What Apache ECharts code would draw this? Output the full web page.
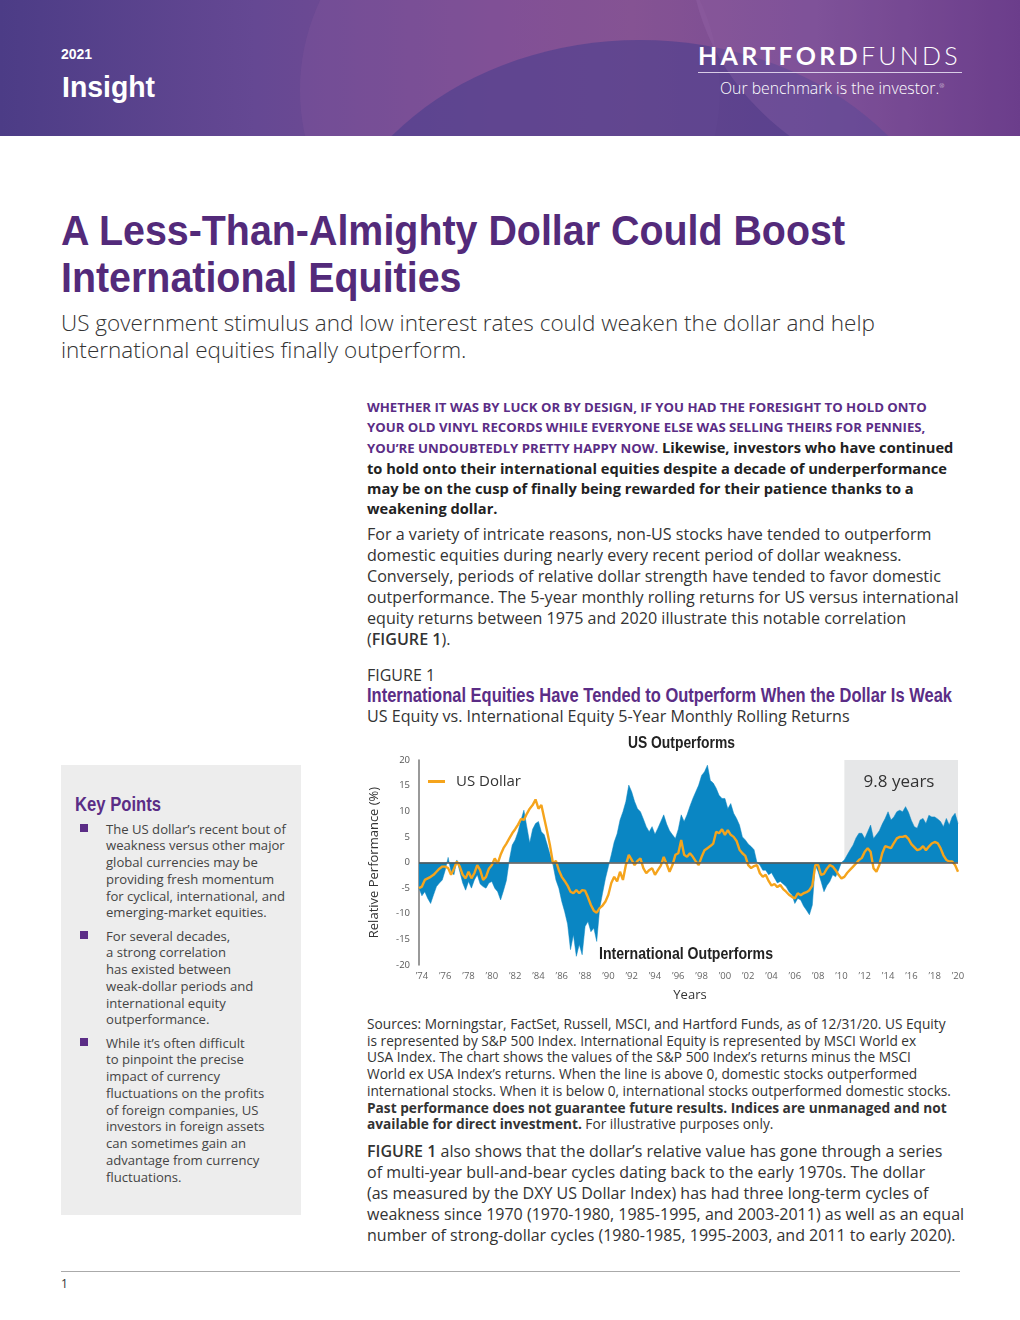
<!DOCTYPE html>
<html><head><meta charset="utf-8">
<script src="https://cdn.jsdelivr.net/npm/echarts@6/dist/echarts.min.js"></script>
<style>
html,body{margin:0;padding:0;background:#fff;}
body{width:1020px;height:1320px;position:relative;overflow:hidden;font-family:"Open Sans",sans-serif;color:#333;}
.abs{position:absolute;white-space:nowrap;}
.cond{font-family:"Liberation Sans",Arial,sans-serif;font-weight:bold;transform-origin:0 0;display:inline-block;}
#hdr{position:absolute;left:0;top:0;width:1020px;height:136px;overflow:hidden;
 background:linear-gradient(90deg,#4c3c86 0%,#654893 25%,#7e4d93 50%,#83508f 62%,#744890 80%,#5a2d7e 100%);}
.ln{display:block;}
</style></head><body>
<div id="hdr">
 <div style="position:absolute;left:300px;top:-120px;width:420px;height:420px;border-radius:50%;background:rgba(140,90,160,0.25);"></div>
 <div style="position:absolute;left:320px;top:40px;width:640px;height:520px;border-radius:50%;background:rgba(70,60,140,0.55);"></div>
 <div style="position:absolute;left:690px;top:-300px;width:600px;height:500px;border-radius:50%;background:rgba(160,110,180,0.25);"></div>
 <div class="abs" style="left:61px;top:46px;font-size:14px;font-weight:bold;color:#fff;font-family:'Liberation Sans',sans-serif;">2021</div>
 <div class="abs cond fit" data-w="93" style="left:62px;top:70px;font-size:30px;line-height:34px;color:#fff;">Insight</div>
 <div class="abs" style="left:698px;top:40px;font-size:25px;color:#fff;font-family:Lato,sans-serif;letter-spacing:3.3px;"><b>HARTFORD</b><span style="font-weight:300">FUNDS</span></div>
 <div style="position:absolute;left:698px;top:72px;width:264px;height:1px;background:#d8cce6;"></div>
 <div class="abs" style="left:720px;top:77px;font-size:15.8px;color:#fff;font-family:'Open Sans',sans-serif;font-weight:300;">Our benchmark is the investor.<sup style="font-size:6px">®</sup></div>
</div>

<div id="t1" class="abs cond fit" data-w="784" style="left:61px;top:207px;font-size:42px;line-height:47px;color:#532a7a;">A Less-Than-Almighty Dollar Could Boost</div>
<div id="t2" class="abs cond" style="left:61px;top:254px;font-size:42px;line-height:47px;color:#532a7a;">International Equities</div>
<div class="abs" style="left:61px;top:310px;font-size:22.5px;line-height:26px;color:#333;font-weight:300;">US government stimulus and low interest rates could weaken the dollar and help</div>
<div class="abs" style="left:61px;top:337px;font-size:22.5px;line-height:26px;color:#333;font-weight:300;">international equities finally outperform.</div>

<div class="abs" style="left:367px;top:397px;font-size:14.65px;line-height:20px;font-weight:700;color:#222;">
<span class="ln" style="color:#5b2d86;font-size:13.2px;">WHETHER IT WAS BY LUCK OR BY DESIGN, IF YOU HAD THE FORESIGHT TO HOLD ONTO</span>
<span class="ln" style="color:#5b2d86;font-size:13.2px;">YOUR OLD VINYL RECORDS WHILE EVERYONE ELSE WAS SELLING THEIRS FOR PENNIES,</span>
<span class="ln"><span style="color:#5b2d86;font-size:13.2px;">YOU’RE UNDOUBTEDLY PRETTY HAPPY NOW.</span> Likewise, investors who have continued</span>
<span class="ln">to hold onto their international equities despite a decade of underperformance</span>
<span class="ln">may be on the cusp of finally being rewarded for their patience thanks to a</span>
<span class="ln">weakening dollar.</span></div>

<div class="abs" style="left:367px;top:524px;font-size:16.1px;line-height:21px;color:#333;">
<span class="ln">For a variety of intricate reasons, non-US stocks have tended to outperform</span>
<span class="ln">domestic equities during nearly every recent period of dollar weakness.</span>
<span class="ln">Conversely, periods of relative dollar strength have tended to favor domestic</span>
<span class="ln">outperformance. The 5-year monthly rolling returns for US versus international</span>
<span class="ln">equity returns between 1975 and 2020 illustrate this notable correlation</span>
<span class="ln">(<span style="font-weight:600">FIGURE 1</span>).</span></div>

<div class="abs" style="left:367px;top:666px;font-size:16px;line-height:18px;color:#333;">FIGURE 1</div>
<div class="abs cond fit" data-w="585" style="left:367px;top:685px;font-size:19.5px;line-height:20px;color:#5b2d86;">International Equities Have Tended to Outperform When the Dollar Is Weak</div>
<div class="abs" style="left:367px;top:707px;font-size:16.1px;line-height:19px;color:#333;">US Equity vs. International Equity 5-Year Monthly Rolling Returns</div>

<div style="position:absolute;left:61px;top:765px;width:240px;height:450px;background:#ededed;"></div>
<div class="abs cond fit" data-w="86" style="left:75px;top:792px;font-size:21px;line-height:24px;color:#5b2d86;">Key Points</div>
<div id="kp"></div>

<div id="chart" style="position:absolute;left:360px;top:730px;width:610px;height:280px;"></div>

<div class="abs" style="left:367px;top:1016px;font-size:13.7px;line-height:16.7px;color:#333;">
<span class="ln">Sources: Morningstar, FactSet, Russell, MSCI, and Hartford Funds, as of 12/31/20. US Equity</span>
<span class="ln">is represented by S&amp;P 500 Index. International Equity is represented by MSCI World ex</span>
<span class="ln">USA Index. The chart shows the values of the S&amp;P 500 Index’s returns minus the MSCI</span>
<span class="ln">World ex USA Index’s returns. When the line is above 0, domestic stocks outperformed</span>
<span class="ln">international stocks. When it is below 0, international stocks outperformed domestic stocks.</span>
<span class="ln" style="font-weight:700">Past performance does not guarantee future results. Indices are unmanaged and not</span>
<span class="ln"><b>available for direct investment.</b> For illustrative purposes only.</span></div>

<div class="abs" style="left:367px;top:1141px;font-size:16.0px;line-height:21px;color:#333;">
<span class="ln"><span style="font-weight:600">FIGURE 1</span> also shows that the dollar’s relative value has gone through a series</span>
<span class="ln">of multi-year bull-and-bear cycles dating back to the early 1970s. The dollar</span>
<span class="ln">(as measured by the DXY US Dollar Index) has had three long-term cycles of</span>
<span class="ln">weakness since 1970 (1970-1980, 1985-1995, and 2003-2011) as well as an equal</span>
<span class="ln">number of strong-dollar cycles (1980-1985, 1995-2003, and 2011 to early 2020).</span></div>

<div style="position:absolute;left:61px;top:1271px;width:899px;height:1px;background:#aaa;"></div>
<div class="abs" style="left:61px;top:1275px;font-size:12px;color:#333;">1</div>

<script>
// ---- condensed headings: fit to measured widths ----
document.querySelectorAll('.fit').forEach(el => {
 const w = el.getBoundingClientRect().width;
 const s = (+el.dataset.w) / w;
 el.style.transform = 'scaleX(' + s + ')';
 if (el.id === 't1') document.getElementById('t2').style.transform = 'scaleX(' + s + ')';
});

// ---- Key points text ----
const keyPoints = [
 ["The US dollar’s recent bout of","weakness versus other major","global currencies may be","providing fresh momentum","for cyclical, international, and","emerging-market equities."],
 ["For several decades,","a strong correlation","has existed between","weak-dollar periods and","international equity","outperformance."],
 ["While it’s often difficult","to pinpoint the precise","impact of currency","fluctuations on the profits","of foreign companies, US","investors in foreign assets","can sometimes gain an","advantage from currency","fluctuations."]
];
const kpStartY = [829, 936, 1043];
(function(){
 const kp = document.getElementById('kp');
 keyPoints.forEach((lines, i) => {
  const sq = document.createElement('div');
  sq.style.cssText = 'position:absolute;left:80px;top:'+(kpStartY[i]-5)+'px;width:8px;height:8px;background:#5b2d86;';
  kp.appendChild(sq);
  const t = document.createElement('div');
  t.className = 'abs';
  t.style.cssText = 'left:106px;top:'+(kpStartY[i]-8.4)+'px;font-size:13.1px;line-height:16.75px;color:#444;';
  t.innerHTML = lines.map(l => '<span class="ln">'+l+'</span>').join('');
  kp.appendChild(t);
 });
})();

// ---- Chart data (quarterly, 1973 Q4 to 2020 Q1) ----
const tickLabels = ["’74","’76","’78","’80","’82","’84","’86","’88","’90","’92","’94","’96","’98","’00","’02","’04","’06","’08","’10","’12","’14","’16","’18","’20"];
const tickYears = [1974,1976,1978,1980,1982,1984,1986,1988,1990,1992,1994,1996,1998,2000,2002,2004,2006,2008,2010,2012,2014,2016,2018,2020];

// US equity minus international equity, 5-yr rolling (%)
const usMinusIntl = [
 -5,
 -6.5,-5.7,-7,-8,
 -6.3,-4.7,-4,-3.4,
 -1.5,1.0,-1.8,-2.4,
 0.5,-1.8,-4,-5.4,
 -3.7,-5,-3.4,-2.4,
 -4.2,-4.7,-5,-4,
 -3.7,-5,-5.7,-7.3,
 -5.5,-3.5,0.5,3.4,
 4.4,6,8.3,10.2,
 7,3.8,6.5,7.6,
 8,6,5.4,3.5,
 1.5,-0.5,-3.4,-5,
 -7.6,-9.6,-12,-17,
 -14.1,-18.3,-16,-18,
 -12.5,-11.5,-13.5,-12.8,
 -15.4,-9,-6,-3.1,
 -0.8,1.5,4,5.6,
 8.3,9.9,11.9,15.1,
 13.8,11.9,10.5,9.9,
 8.5,7,6,7,
 5.5,6.7,8,9.3,
 7.5,6.2,5.4,4.7,
 6.5,9.3,8,9.3,
 11,12.5,13.8,15.1,
 17,17.7,19,16,
 15.5,14.5,13.1,12.5,
 12.5,10.5,11.5,9.6,
 8.6,7.3,5,4.4,
 3.6,3.1,2.5,0,
 -0.5,-1.5,-1.5,-2.4,
 -2,-3,-4,-3.7,
 -4.2,-4.7,-5.7,-6.3,
 -8,-7,-7.3,-8.5,
 -9.3,-10.2,-8.3,-0.5,
 -1.8,-3.7,-5.7,-4.5,
 -3.7,-2.4,-2.8,-1.5,
 0,0.5,1.5,2.5,
 3.4,4.8,5.7,5.7,
 4.7,6,7.3,4.7,
 5.4,6.2,7.5,8.6,
 9.9,8.3,8.9,9.9,
 10.2,9.9,10.9,9.8,
 8.2,7,6.7,8.3,
 8.6,7.6,9.2,8.9,
 8.9,8.5,8,7,
 8.6,7.3,8.9,9.6,
 7.6
];

// US Dollar (relative, %)
const usDollar = [
 -5,
 -4.7,-3.4,-3.1,-2.8,
 -2.4,-1.8,-1.2,-0.8,
 -0.8,-1.1,-2.4,-1.2,
 0.2,-0.8,-2.4,-3.1,
 -1.8,-3.1,-2.1,-0.5,
 -1.5,-3.4,-2.8,-1.2,
 -0.5,0.8,-0.2,1.5,
 2.8,3.7,4.7,5.7,
 6.5,7.4,8.5,8.3,
 9.5,10.5,11.2,12.3,
 10.5,11.2,8.6,6,
 3.2,-0.2,0.3,-1.5,
 -2.8,-3.6,-4.5,-5.7,
 -6,-5.4,-6,-5.4,
 -5.5,-6.8,-8.3,-9.4,
 -9.8,-8.9,-8.4,-7.6,
 -6.3,-4,-2.8,-3.7,
 -1.8,-3.4,-0.5,1.5,
 0.5,-0.5,0.3,0.8,
 -1.1,-2.1,-1.5,-1.1,
 -2.4,-1.5,-0.6,1.1,
 -0.3,-1.8,-0.5,1.5,
 1.8,4.4,1.5,1.1,
 1.8,1.1,0.2,-0.5,
 1.1,2.4,2.8,3.2,
 3.7,6,5.7,6.5,
 5.4,6.3,5.4,5,
 4.2,2.5,1.8,1.3,
 -0.5,-1.1,-0.7,-0.5,
 -2.1,-2.8,-2.4,-3.6,
 -4.5,-4.2,-4.8,-4.4,
 -5.2,-5.7,-6.3,-6.7,
 -7,-6,-6.4,-6,
 -5.8,-5.4,-4.5,-0.5,
 -0.5,-2.4,-2.2,-1.2,
 -0.5,-0.8,-1.5,-2.4,
 -3.1,-2.8,-2,-1.4,
 -0.8,-0.2,0.5,0.9,
 2.1,2.8,2.1,-1.1,
 -1.8,-0.5,1.8,3.2,
 3,2.8,3.8,4.7,
 5,5,5.2,4.6,
 3.6,3,2.4,2.6,
 3.2,2.4,3.1,3.7,
 4,3.8,2.8,1.4,
 0.5,0.2,0.2,-0.5,
 -1.8
];

const quarters = [];
for (let y = 1973; y <= 2020; y++) {
 for (let q = 1; q <= 4; q++) {
  if (y === 1973 && q < 4) continue;
  if (y === 2020 && q > 1) break;
  quarters.push(y + 'Q' + q);
 }
}
const shadeStart = '2010Q2', shadeEnd = '2020Q1';

const font = '"Open Sans", sans-serif';
const condFont = '"Liberation Sans", Arial, sans-serif';
const mctx = document.createElement('canvas').getContext('2d');
function condScale(text, px, target) {
 mctx.font = 'bold ' + px + 'px ' + condFont;
 return target / mctx.measureText(text).width;
}
function condText(text, x, y, target) {
 return {type:'text', x:x, y:y, z:100, scaleX:condScale(text, 16, target),
  style:{text:text, textAlign:'center', textVerticalAlign:'middle', fill:'#222', font:'bold 16px ' + condFont}};
}

const chart = echarts.init(document.getElementById('chart'), null, {renderer:'canvas'});
chart.setOption({
 animation:false,
 grid:{left:51.7, right:12, top:30, bottom:45},
 legend:{data:['US Dollar'], left:63, top:39, icon:'rect', itemWidth:17, itemHeight:3,
   textStyle:{fontFamily:font, fontSize:15, color:'#333', padding:[0,0,0,6]}},
 xAxis:{type:'category', data:quarters, boundaryGap:false,
   axisLine:{show:false}, axisTick:{show:false}, splitLine:{show:false},
   axisLabel:{fontFamily:font, fontSize:9.5, color:'#666', margin:6,
     interval:(i,v)=> v.endsWith('Q1') && (+v.slice(0,4))%2===0,
     formatter:(v)=>{const k=tickYears.indexOf(+v.slice(0,4)); return k>=0?tickLabels[k]:'';}}},
 yAxis:{type:'value', min:-20, max:20, interval:5,
   name:'Relative Performance (%)', nameLocation:'middle', nameGap:38, nameRotate:90,
   nameTextStyle:{fontFamily:font, fontSize:13, color:'#333'},
   axisLine:{show:true, lineStyle:{color:'#777', width:1.5}}, axisTick:{show:false}, splitLine:{show:false},
   axisLabel:{fontFamily:font, fontSize:9.5, color:'#555', margin:9}},
 graphic:[
  condText('US Outperforms', 321.5, 13.5, 107),
  condText('International Outperforms', 326, 224.5, 174),
  {type:'text', x:539, y:52, z:100, style:{text:'9.8 years', textAlign:'center', textVerticalAlign:'middle', fill:'#333', font:'17px ' + font}},
  {type:'text', x:330, y:265, z:100, style:{text:'Years', textAlign:'center', textVerticalAlign:'middle', fill:'#333', font:'13px ' + font}}
 ],
 series:[
  {name:'shade', type:'line', data:usMinusIntl, z:1, symbol:'none', silent:true,
   lineStyle:{opacity:0, width:0},
   markArea:{silent:true, itemStyle:{color:'#e6e7e8'}, data:[[{xAxis:shadeStart, yAxis:0},{xAxis:shadeEnd, yAxis:20}]]}},
  {name:'US minus International', type:'line', data:usMinusIntl, z:2, symbol:'none',
   lineStyle:{width:0.5, color:'#0a86c3'}, itemStyle:{color:'#0a86c3'}, areaStyle:{color:'#0a86c3', opacity:1},
   markLine:{silent:true, symbol:'none', label:{show:false}, lineStyle:{color:'#555', width:1.5, type:'solid'}, data:[{yAxis:0}]}},
  {name:'US Dollar', type:'line', data:usDollar, z:3, symbol:'none',
   lineStyle:{width:2.4, color:'#f5a41c'}, itemStyle:{color:'#f5a41c'}}
 ]
});
</script>
</body></html>
